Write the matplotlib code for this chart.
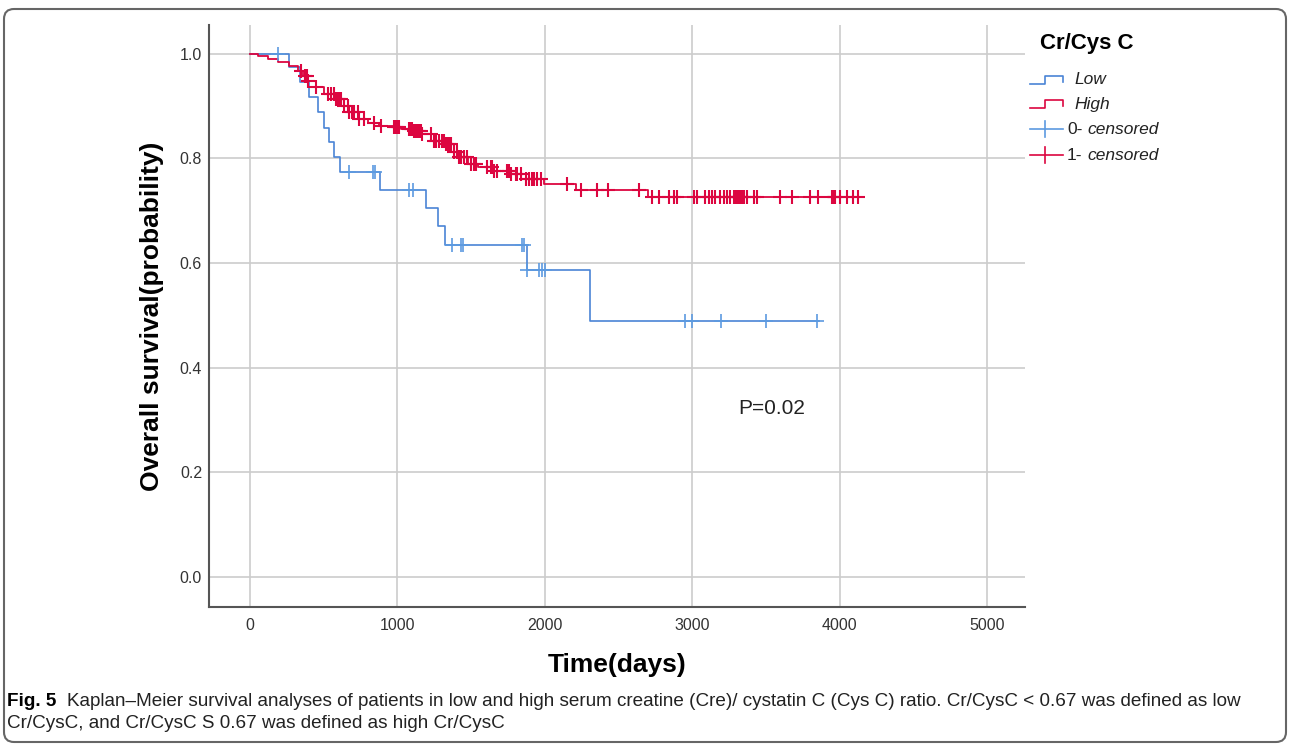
import numpy as np
import matplotlib
matplotlib.use('Agg')
import matplotlib.pyplot as plt
import matplotlib.font_manager as fm
from matplotlib.lines import Line2D
from matplotlib.patches import FancyBboxPatch
from matplotlib.transforms import IdentityTransform

# Kaplan-Meier steps (days, survival)
low_times = [0, 264, 339, 400, 461, 501, 535, 569, 610, 881, 1192, 1274, 1321, 1877, 2304]
low_surv = [1.0, 0.975, 0.946, 0.918, 0.889, 0.859, 0.832, 0.803, 0.774, 0.740, 0.705,
            0.671, 0.635, 0.587, 0.489]
low_end = 3862
low_censored = [188, 671, 835, 845, 1077, 1104, 1369, 1430, 1443, 1847, 1862, 1880,
                1960, 1981, 2004, 2954, 3001, 3198, 3503, 3845]

high_times = [0, 54, 122, 190, 264, 325, 359, 393, 447, 501, 569, 637, 671, 732, 799,
              874, 976, 1023, 1111, 1159, 1247, 1328, 1382, 1416, 1477, 1545, 1653,
              1768, 1870, 1992, 2209, 2703]
high_surv = [1.0, 0.995, 0.990, 0.985, 0.977, 0.967, 0.958, 0.948, 0.937, 0.924, 0.914,
             0.901, 0.889, 0.876, 0.868, 0.862, 0.860, 0.857, 0.853, 0.847, 0.834, 0.828,
             0.812, 0.803, 0.790, 0.784, 0.776, 0.771, 0.761, 0.751, 0.740, 0.727]
high_end = 4140
high_censored = [346, 373, 386, 395, 447, 526, 553, 567, 583, 594, 605, 617, 639, 662,
                 673, 695, 707, 730, 741, 775, 842, 888, 978, 989, 1001, 1012, 1080, 1091,
                 1102, 1113, 1125, 1136, 1147, 1158, 1170, 1226, 1249, 1260, 1283, 1305,
                 1316, 1328, 1339, 1350, 1362, 1384, 1407, 1418, 1430, 1452, 1475, 1497,
                 1520, 1531, 1610, 1633, 1644, 1656, 1678, 1746, 1757, 1768, 1802, 1813,
                 1836, 1870, 1892, 1915, 1927, 1949, 1972, 2153, 2243, 2352, 2429, 2638,
                 2728, 2773, 2841, 2875, 2898, 3010, 3033, 3089, 3112, 3135, 3157, 3191,
                 3214, 3236, 3259, 3281, 3293, 3304, 3315, 3327, 3338, 3349, 3372, 3417,
                 3440, 3598, 3677, 3801, 3857, 3948, 3959, 3970, 4004, 4049, 4094, 4128]

x_ticks = [0, 1000, 2000, 3000, 4000, 5000]
y_ticks = [0.0, 0.2, 0.4, 0.6, 0.8, 1.0]

legend_title = 'Cr/Cys C'
group_labels = ['Low', 'High']
caption_head = 'Fig. 5'
caption_body = ('Kaplan\u2013Meier survival analyses of patients in low and high serum creatine (Cre)/ '
                'cystatin C (Cys C) ratio. Cr/CysC < 0.67 was defined as low')
caption_line2 = 'Cr/CysC, and Cr/CysC S 0.67 was defined as high Cr/CysC'

BLUE = '#4a84d6'
BLUE_MARK = '#5c9ae0'
RED = '#dc0640'
W, H = 1290, 747

names = {f.name for f in fm.fontManager.ttflist}
main_font = 'Liberation Sans' if 'Liberation Sans' in names else 'DejaVu Sans'
cap_font = 'Liberation Sans Narrow' if 'Liberation Sans Narrow' in names else main_font
plt.rcParams['font.family'] = [main_font, 'DejaVu Sans']


def fx(x):
    return x / W


def fy(y):
    return 1 - y / H


def km_at(times, surv, t):
    idx = np.searchsorted(times, t, side='right') - 1
    return np.asarray(surv)[idx]


fig = plt.figure(figsize=(12.9, 7.47), dpi=100)
ax = fig.add_axes([fx(209), fy(607), (1025 - 209) / W, (607 - 25) / H])

# curves
ax.step(low_times + [low_end], low_surv + [low_surv[-1]], where='post', color=BLUE, lw=1.2)
ax.step(high_times + [high_end], high_surv + [high_surv[-1]], where='post', color=RED, lw=1.3)

ax.plot(low_censored, km_at(low_times, low_surv, low_censored), ls='none', marker='+',
        ms=10, mew=1.2, color=BLUE_MARK)
ax.plot(high_censored, km_at(high_times, high_surv, high_censored), ls='none', marker='+',
        ms=10, mew=1.5, color=RED)

ax.set_xlim(-278, 5258)
ax.set_ylim(-0.057, 1.055)
ax.set_xticks(x_ticks)
ax.set_yticks(y_ticks)
ax.set_xticklabels([str(v) for v in x_ticks])
ax.set_yticklabels([f'{v:.1f}' for v in y_ticks])
ax.grid(True, color='#cccccc', lw=1.2)
ax.set_axisbelow(True)
ax.tick_params(length=0, labelsize=11.5, labelcolor='#333333')
ax.tick_params(axis='y', pad=5)
ax.tick_params(axis='x', pad=8)
for side in ['top', 'right']:
    ax.spines[side].set_visible(False)
for side in ['left', 'bottom']:
    ax.spines[side].set_color('#555555')
    ax.spines[side].set_linewidth(1.5)

ax.set_xlabel('Time(days)', fontsize=19, fontweight='bold', labelpad=14)
ax.set_ylabel('Overall survival(probability)', fontsize=19, fontweight='bold', labelpad=11)

ax.text(3541, 0.323, 'P=0.02', fontsize=15, ha='center', va='center', color='#222222')

# legend, drawn by hand like the SPSS output
fig.text(fx(1040), fy(44), legend_title, fontsize=16, fontweight='bold', va='center')
rows = [80, 104, 129, 155]
for y, c in zip(rows[:2], [BLUE, RED]):
    fig.add_artist(Line2D([fx(1030), fx(1045), fx(1045), fx(1063), fx(1063)],
                          [fy(y + 4), fy(y + 4), fy(y - 4), fy(y - 4), fy(y + 2)],
                          color=c, lw=1.2, transform=fig.transFigure))
for y, c in zip(rows[2:], [BLUE_MARK, RED]):
    fig.add_artist(Line2D([fx(1030), fx(1063)], [fy(y), fy(y)], color=c, lw=1.2,
                          transform=fig.transFigure))
    fig.add_artist(Line2D([fx(1045), fx(1045)], [fy(y - 8), fy(y + 8)], color=c, lw=1.2,
                          transform=fig.transFigure))
for y, lab in zip(rows[:2], group_labels):
    fig.text(fx(1074), fy(y), lab, fontsize=12.5, style='italic', va='center', color='#222222')
for y, lab in zip(rows[2:], ['0-', '1-']):
    fig.text(fx(1067), fy(y), lab, fontsize=12.5, va='center', color='#222222')
    fig.text(fx(1087), fy(y), 'censored', fontsize=12.5, style='italic', va='center',
             color='#222222')

# caption
fig.text(fx(7), fy(701), caption_head, fontsize=13.6, fontweight='bold', va='center',
         family=[cap_font, 'DejaVu Sans'])
fig.text(fx(67), fy(701), caption_body, fontsize=13.6, va='center',
         family=[cap_font, 'DejaVu Sans'], color='#222222')
fig.text(fx(7), fy(723), caption_line2, fontsize=13.6, va='center',
         family=[cap_font, 'DejaVu Sans'], color='#222222')

# rounded frame around the whole figure
fig.add_artist(FancyBboxPatch((4, 5), 1282, 733, boxstyle='round,pad=0,rounding_size=10',
                              transform=IdentityTransform(), fill=False,
                              edgecolor='#666666', lw=1.5))

fig.savefig('out.png', dpi=100)
plt.close(fig)
